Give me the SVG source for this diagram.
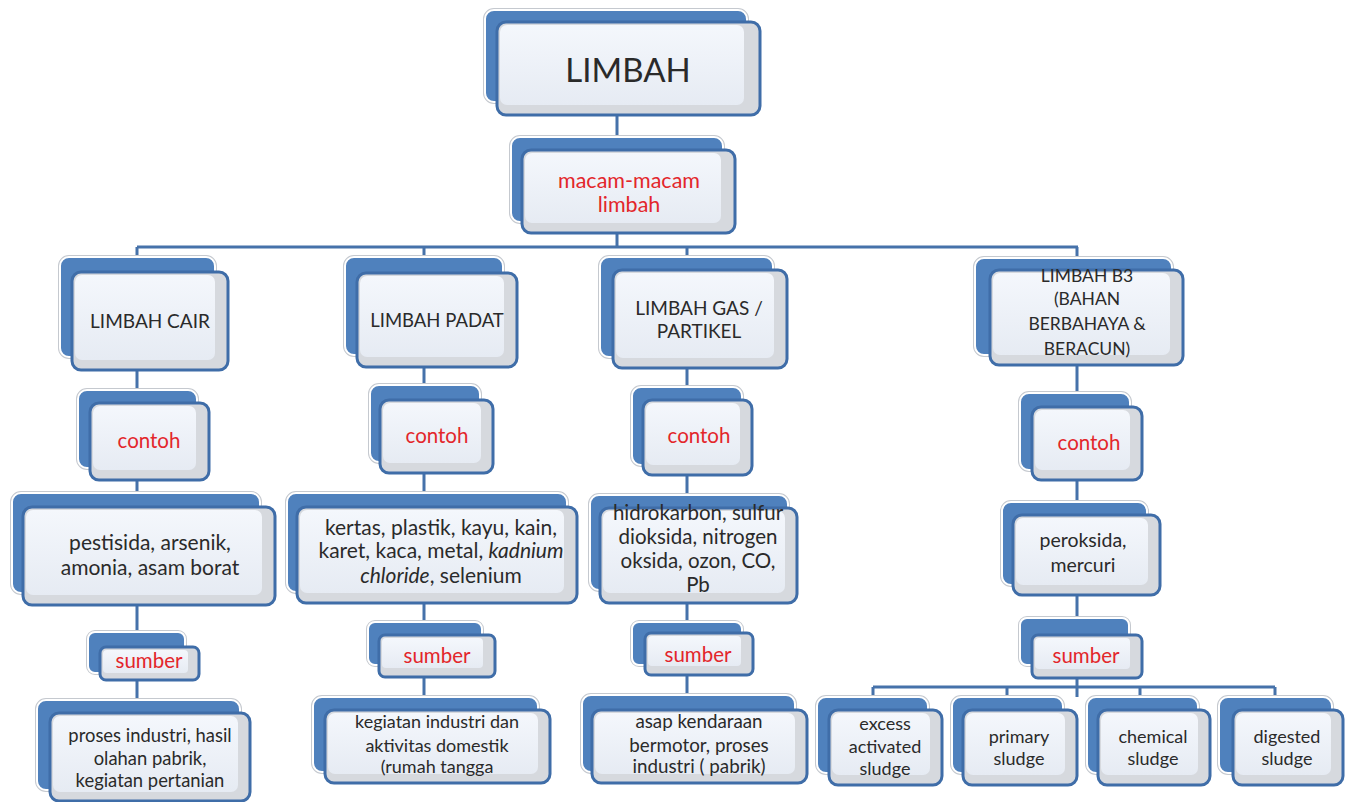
<svg xmlns="http://www.w3.org/2000/svg" width="1351" height="802" viewBox="0 0 1351 802">
<defs>
<linearGradient id="gIn" x1="0" y1="0" x2="0" y2="1">
<stop offset="0" stop-color="#f4f7fc"/>
<stop offset="1" stop-color="#e6ebf3"/>
</linearGradient>
<style>
.bo{fill:none;stroke:#c5c9cf;stroke-width:4}
.bk{fill:#4f81bd;stroke:#ffffff;stroke-width:2}
.fr{fill:#d6d9de;stroke:#3f6da8;stroke-width:3}
.in{fill:url(#gIn)}
.cn{fill:none;stroke:#4672aa;stroke-width:3}
text{font-family:Lato,"Open Sans","Liberation Sans",sans-serif;fill:#2a2a2a;text-anchor:middle}
.r{fill:#e3262b}
</style>
</defs>
<rect width="1351" height="802" fill="#ffffff"/>
<g id="connectors">
<path class="cn" d="M617,110 V247 M137,247 H1078 M137,247 V713 M424,247 V710 M687,247 V710 M1077,247 V697 M873,687 H1275 M873,687 V705 M1007,687 V705 M1140,687 V705 M1275,687 V705"/>
</g>
<g id="n-limbah">
<rect class="bo" x="485" y="10" width="262" height="92" rx="9"/><rect class="bk" x="485" y="10" width="262" height="92" rx="9"/>
<rect class="fr" x="497" y="22" width="263" height="93" rx="9"/><rect class="in" x="500" y="25" width="244" height="80" rx="7"/>
<text x="628" y="82" font-size="33">LIMBAH</text>
</g>
<g id="n-macam">
<rect class="bo" x="511" y="137" width="212" height="85" rx="9"/><rect class="bk" x="511" y="137" width="212" height="85" rx="9"/>
<rect class="fr" x="522" y="150" width="213" height="83" rx="9"/><rect class="in" x="525" y="153" width="196" height="70" rx="7"/>
<text class="r" x="629" y="188" font-size="21.5">macam-macam</text>
<text class="r" x="629" y="212" font-size="21.5">limbah</text>
</g>
<g id="n-cair">
<rect class="bo" x="60" y="257" width="155" height="100" rx="9"/><rect class="bk" x="60" y="257" width="155" height="100" rx="9"/>
<rect class="fr" x="72" y="272" width="156" height="98" rx="9"/><rect class="in" x="75" y="275" width="140" height="85" rx="7"/>
<text x="150" y="328" font-size="19">LIMBAH CAIR</text>
</g>
<g id="n-contoh1">
<rect class="bo" x="78" y="390" width="119" height="78" rx="9"/><rect class="bk" x="78" y="390" width="119" height="78" rx="9"/>
<rect class="fr" x="90" y="403" width="119" height="77" rx="9"/><rect class="in" x="93" y="406" width="103" height="64" rx="7"/>
<text class="r" x="149" y="448" font-size="20.5">contoh</text>
</g>
<g id="n-pestisida">
<rect class="bo" x="12" y="493" width="248" height="100" rx="9"/><rect class="bk" x="12" y="493" width="248" height="100" rx="9"/>
<rect class="fr" x="23" y="507" width="252" height="98" rx="9"/><rect class="in" x="26" y="510" width="236" height="85" rx="7"/>
<text x="150" y="550" font-size="21">pestisida, arsenik,</text>
<text x="150" y="575" font-size="21">amonia, asam borat</text>
</g>
<g id="n-sumber1">
<rect class="bo" x="88" y="632" width="97" height="41" rx="7"/><rect class="bk" x="88" y="632" width="97" height="41" rx="7"/>
<rect class="fr" x="100" y="647" width="99" height="33" rx="6"/><rect class="in" x="103" y="650" width="85" height="23" rx="4"/>
<text class="r" x="149" y="668" font-size="20.5">sumber</text>
</g>
<g id="n-proses">
<rect class="bo" x="37" y="700" width="203" height="90" rx="9"/><rect class="bk" x="37" y="700" width="203" height="90" rx="9"/>
<rect class="fr" x="50" y="713" width="200" height="88" rx="9"/><rect class="in" x="53" y="716" width="185" height="76" rx="7"/>
<text x="150" y="742" font-size="18.4">proses industri, hasil</text>
<text x="150" y="765" font-size="18.4">olahan pabrik,</text>
<text x="150" y="787" font-size="18.4">kegiatan pertanian</text>
</g>
<g id="n-padat">
<rect class="bo" x="345" y="257" width="158" height="98" rx="9"/><rect class="bk" x="345" y="257" width="158" height="98" rx="9"/>
<rect class="fr" x="357" y="273" width="160" height="94" rx="9"/><rect class="in" x="360" y="276" width="144" height="81" rx="7"/>
<text x="437" y="327" font-size="18.5">LIMBAH PADAT</text>
</g>
<g id="n-contoh2">
<rect class="bo" x="370" y="385" width="110" height="77" rx="9"/><rect class="bk" x="370" y="385" width="110" height="77" rx="9"/>
<rect class="fr" x="380" y="400" width="113" height="73" rx="9"/><rect class="in" x="383" y="403" width="98" height="60" rx="7"/>
<text class="r" x="437" y="443" font-size="20.5">contoh</text>
</g>
<g id="n-kertas">
<rect class="bo" x="287" y="493" width="280" height="99" rx="9"/><rect class="bk" x="287" y="493" width="280" height="99" rx="9"/>
<rect class="fr" x="297" y="507" width="280" height="96" rx="9"/><rect class="in" x="300" y="510" width="264" height="83" rx="7"/>
<text x="441" y="535" font-size="21">kertas, plastik, kayu, kain,</text>
<text x="441" y="558" font-size="21">karet, kaca, metal, <tspan font-style="italic">kadnium</tspan></text>
<text x="441" y="583" font-size="21"><tspan font-style="italic">chloride</tspan>, selenium</text>
</g>
<g id="n-sumber2">
<rect class="bo" x="368" y="622" width="114" height="43" rx="7"/><rect class="bk" x="368" y="622" width="114" height="43" rx="7"/>
<rect class="fr" x="379" y="635" width="116" height="42" rx="6"/><rect class="in" x="382" y="638" width="101" height="30" rx="4"/>
<text class="r" x="437" y="663" font-size="20.5">sumber</text>
</g>
<g id="n-kegiatan">
<rect class="bo" x="313" y="697" width="225" height="75" rx="9"/><rect class="bk" x="313" y="697" width="225" height="75" rx="9"/>
<rect class="fr" x="325" y="710" width="225" height="73" rx="9"/><rect class="in" x="328" y="713" width="210" height="61" rx="7"/>
<text x="437" y="728" font-size="18">kegiatan industri dan</text>
<text x="437" y="752" font-size="18">aktivitas domestik</text>
<text x="437" y="773" font-size="18">(rumah tangga</text>
</g>
<g id="n-gas">
<rect class="bo" x="600" y="257" width="173" height="100" rx="9"/><rect class="bk" x="600" y="257" width="173" height="100" rx="9"/>
<rect class="fr" x="613" y="270" width="174" height="98" rx="9"/><rect class="in" x="616" y="273" width="158" height="85" rx="7"/>
<text x="699" y="315" font-size="19">LIMBAH GAS /</text>
<text x="699" y="338" font-size="19">PARTIKEL</text>
</g>
<g id="n-contoh3">
<rect class="bo" x="632" y="387" width="110" height="78" rx="9"/><rect class="bk" x="632" y="387" width="110" height="78" rx="9"/>
<rect class="fr" x="643" y="400" width="109" height="75" rx="9"/><rect class="in" x="646" y="403" width="94" height="62" rx="7"/>
<text class="r" x="699" y="443" font-size="20.5">contoh</text>
</g>
<g id="n-hidro">
<rect class="bo" x="590" y="495" width="198" height="95" rx="9"/><rect class="bk" x="590" y="495" width="198" height="95" rx="9"/>
<rect class="fr" x="600" y="508" width="197" height="95" rx="9"/><rect class="in" x="603" y="511" width="182" height="82" rx="7"/>
<text x="698" y="520" font-size="20.5">hidrokarbon, sulfur</text>
<text x="698" y="544" font-size="20.5">dioksida, nitrogen</text>
<text x="698" y="568" font-size="20.5">oksida, ozon, CO,</text>
<text x="698" y="592" font-size="20.5">Pb</text>
</g>
<g id="n-sumber3">
<rect class="bo" x="632" y="622" width="110" height="43" rx="7"/><rect class="bk" x="632" y="622" width="110" height="43" rx="7"/>
<rect class="fr" x="645" y="633" width="108" height="42" rx="6"/><rect class="in" x="648" y="636" width="93" height="30" rx="4"/>
<text class="r" x="698" y="662" font-size="20.5">sumber</text>
</g>
<g id="n-asap">
<rect class="bo" x="582" y="695" width="213" height="77" rx="9"/><rect class="bk" x="582" y="695" width="213" height="77" rx="9"/>
<rect class="fr" x="592" y="710" width="215" height="73" rx="9"/><rect class="in" x="595" y="713" width="200" height="61" rx="7"/>
<text x="699" y="728" font-size="18.8">asap kendaraan</text>
<text x="699" y="752" font-size="18.8">bermotor, proses</text>
<text x="699" y="773" font-size="18.8">industri ( pabrik)</text>
</g>
<g id="n-b3">
<rect class="bo" x="975" y="258" width="197" height="97" rx="9"/><rect class="bk" x="975" y="258" width="197" height="97" rx="9"/>
<rect class="fr" x="990" y="270" width="193" height="95" rx="9"/><rect class="in" x="993" y="273" width="177" height="82" rx="7"/>
<text x="1087" y="282" font-size="17.5">LIMBAH B3</text>
<text x="1087" y="305" font-size="17.5">(BAHAN</text>
<text x="1087" y="330" font-size="17.5">BERBAHAYA &amp;</text>
<text x="1087" y="355" font-size="17.5">BERACUN)</text>
</g>
<g id="n-contoh4">
<rect class="bo" x="1020" y="393" width="110" height="77" rx="9"/><rect class="bk" x="1020" y="393" width="110" height="77" rx="9"/>
<rect class="fr" x="1032" y="407" width="110" height="73" rx="9"/><rect class="in" x="1035" y="410" width="95" height="60" rx="7"/>
<text class="r" x="1089" y="450" font-size="20.5">contoh</text>
</g>
<g id="n-peroksida">
<rect class="bo" x="1002" y="502" width="145" height="83" rx="9"/><rect class="bk" x="1002" y="502" width="145" height="83" rx="9"/>
<rect class="fr" x="1013" y="515" width="147" height="80" rx="9"/><rect class="in" x="1016" y="518" width="132" height="67" rx="7"/>
<text x="1083" y="547" font-size="19.5">peroksida,</text>
<text x="1083" y="572" font-size="19.5">mercuri</text>
</g>
<g id="n-sumber4">
<rect class="bo" x="1020" y="618" width="109" height="47" rx="7"/><rect class="bk" x="1020" y="618" width="109" height="47" rx="7"/>
<rect class="fr" x="1032" y="635" width="110" height="43" rx="6"/><rect class="in" x="1035" y="638" width="95" height="31" rx="4"/>
<text class="r" x="1086" y="663" font-size="20.5">sumber</text>
</g>
<g id="n-excess">
<rect class="bo" x="817" y="697" width="111" height="76" rx="9"/><rect class="bk" x="817" y="697" width="111" height="76" rx="9"/>
<rect class="fr" x="829" y="710" width="113" height="75" rx="9"/><rect class="in" x="832" y="713" width="98" height="62" rx="7"/>
<text x="885" y="730" font-size="18">excess</text>
<text x="885" y="753" font-size="18">activated</text>
<text x="885" y="775" font-size="18">sludge</text>
</g>
<g id="n-primary">
<rect class="bo" x="952" y="697" width="111" height="76" rx="9"/><rect class="bk" x="952" y="697" width="111" height="76" rx="9"/>
<rect class="fr" x="963" y="710" width="114" height="75" rx="9"/><rect class="in" x="966" y="713" width="99" height="62" rx="7"/>
<text x="1019" y="743" font-size="18">primary</text>
<text x="1019" y="765" font-size="18">sludge</text>
</g>
<g id="n-chemical">
<rect class="bo" x="1087" y="697" width="111" height="76" rx="9"/><rect class="bk" x="1087" y="697" width="111" height="76" rx="9"/>
<rect class="fr" x="1098" y="710" width="112" height="75" rx="9"/><rect class="in" x="1101" y="713" width="97" height="62" rx="7"/>
<text x="1153" y="743" font-size="18">chemical</text>
<text x="1153" y="765" font-size="18">sludge</text>
</g>
<g id="n-digested">
<rect class="bo" x="1219" y="697" width="113" height="76" rx="9"/><rect class="bk" x="1219" y="697" width="113" height="76" rx="9"/>
<rect class="fr" x="1233" y="710" width="110" height="75" rx="9"/><rect class="in" x="1236" y="713" width="95" height="62" rx="7"/>
<text x="1287" y="743" font-size="18">digested</text>
<text x="1287" y="765" font-size="18">sludge</text>
</g>
</svg>
